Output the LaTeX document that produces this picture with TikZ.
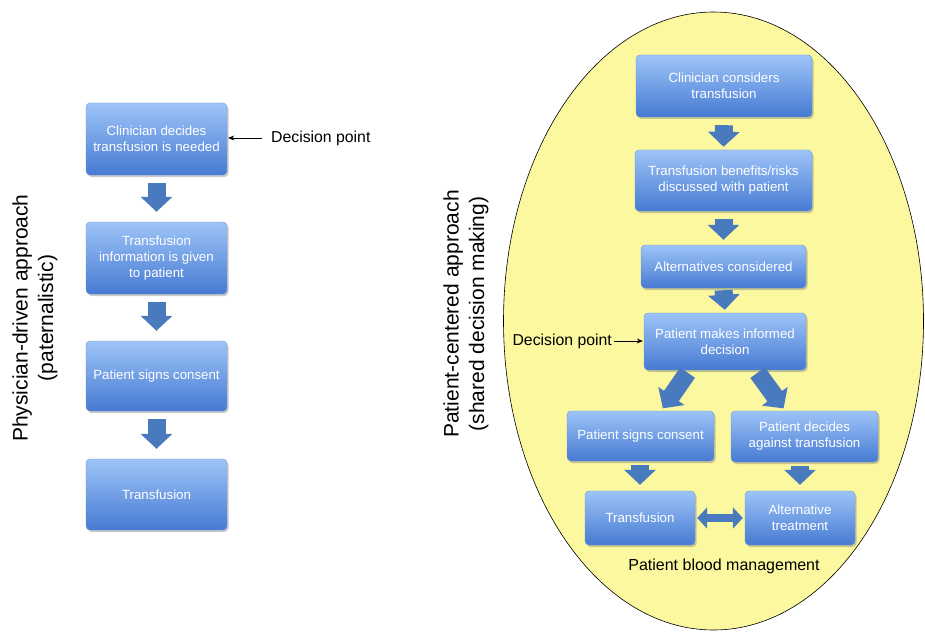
\documentclass[tikz,border=0pt]{standalone}
\usepackage{fontspec}
\setmainfont{Liberation Sans}
\usetikzlibrary{arrows.meta,shadows,calc}
\definecolor{boxtop}{RGB}{158,196,248}
\definecolor{boxbot}{RGB}{70,122,210}
\definecolor{boxline}{RGB}{110,150,215}
\definecolor{arrowblue}{RGB}{74,122,190}
\definecolor{ellyellow}{RGB}{252,248,160}
\tikzset{
  flowbox/.style={rectangle, rounded corners=4pt, top color=boxtop, bottom color=boxbot,
    draw=boxline, line width=0.4pt, text=white, align=center, inner sep=2pt,
    font=\fontsize{13.3}{16}\selectfont,
    drop shadow={shadow xshift=1.5pt, shadow yshift=-2pt, opacity=0.35, fill=black!60}},
  blockarrow/.style={draw=arrowblue, line width=18pt,
    -{Triangle[width=31pt,length=15pt]}, arrowblue},
  dblarrow/.style={draw=arrowblue, line width=8pt,
    {Triangle[width=21pt,length=10pt]}-{Triangle[width=21pt,length=10pt]}, arrowblue},
  label/.style={text=black, inner sep=0pt},
  sidetitle/.style={text=black, inner sep=0pt, rotate=90, align=center, font=\fontsize{21}{25.5}\selectfont},
  pointer/.style={-{Stealth[length=6pt,width=5pt]}, line width=0.7pt, black}
}
\begin{document}
\begin{tikzpicture}[x=1pt,y=-1pt]
\useasboundingbox (0,0) rectangle (925,631);
% ellipse
\draw[fill=ellyellow, line width=0.6pt] (713.5,321) ellipse [x radius=210pt, y radius=309pt];

% left side
\node[flowbox, minimum width=141pt, minimum height=72pt] (b1) at (156.5,139) {Clinician decides\\transfusion is needed};
\node[flowbox, minimum width=141pt, minimum height=72pt] (b2) at (156.5,258) {Transfusion\\information is given\\to patient};
\node[flowbox, minimum width=141pt, minimum height=70pt] (b3) at (156.5,376) {Patient signs consent};
\node[flowbox, minimum width=141pt, minimum height=71pt] (b4) at (156.5,494.5) {Transfusion};

\draw[blockarrow, shorten <=8pt, shorten >=10pt] (b1.south) -- (b2.north);
\draw[blockarrow, shorten <=8pt, shorten >=10pt] (b2.south) -- (b3.north);
\draw[blockarrow, shorten <=8pt, shorten >=10pt] (b3.south) -- (b4.north);

\node[label, anchor=west, font=\fontsize{15.8}{19}\selectfont] (dp1) at (271,138) {Decision point};
\draw[pointer, shorten <=9pt, shorten >=1pt] (dp1.west) -- (dp1.west -| b1.east);

\node[sidetitle] (lt) at (35,318) {Physician-driven approach\\(paternalistic)};

% right side
\node[flowbox, minimum width=176pt, minimum height=62pt] (c1) at (724,86) {Clinician considers\\transfusion};
\node[flowbox, minimum width=177pt, minimum height=61pt] (c2) at (723.5,180.5) {Transfusion benefits/risks\\discussed with patient};
\node[flowbox, minimum width=165pt, minimum height=43pt] (c3) at (723.5,266.5) {Alternatives considered};
\node[flowbox, minimum width=162pt, minimum height=57pt] (c4) at (725,341.5) {Patient makes informed\\decision};
\node[flowbox, minimum width=147pt, minimum height=50pt] (c5) at (640.5,436) {Patient signs consent};
\node[flowbox, minimum width=147pt, minimum height=51pt] (c6) at (804.5,436.5) {Patient decides\\against transfusion};
\node[flowbox, minimum width=110pt, minimum height=54pt] (c7) at (640,518) {Transfusion};
\node[flowbox, minimum width=110pt, minimum height=54pt] (c8) at (800,518) {Alternative\\treatment};

\draw[blockarrow, shorten <=8pt, shorten >=3pt] (c1.south) -- (c2.north);
\draw[blockarrow, shorten <=8pt, shorten >=5pt] (c2.south) -- (c3.north);
\draw[blockarrow, shorten <=2pt, shorten >=3pt] (c3.south) -- (c4.north);
\draw[blockarrow, shorten <=3pt, shorten >=3pt] ($(c4.south west)!0.28!(c4.south east)$) -- ($(c5.north west)!0.64!(c5.north east)$);
\draw[blockarrow, shorten <=3pt, shorten >=3pt] ($(c4.south west)!0.69!(c4.south east)$) -- ($(c6.north west)!0.37!(c6.north east)$);
\draw[blockarrow, shorten <=4pt, shorten >=6pt] (c5.south -| c7.north) -- (c7.north);
\draw[blockarrow, shorten <=4pt, shorten >=6pt] (c6.south -| c8.north) -- (c8.north);
\draw[dblarrow, shorten <=2pt, shorten >=2pt] (c7.east) -- (c8.west);

\node[label, anchor=east, font=\fontsize{15.8}{19}\selectfont] (dp2) at (612,341) {Decision point};
\draw[pointer, shorten <=2pt, shorten >=1pt] (dp2.east) -- (dp2.east -| c4.west);

\node[label, font=\fontsize{16}{19}\selectfont] (pbm) at (724,566) {Patient blood management};

\node[sidetitle] (rt) at (466,314) {Patient-centered approach\\(shared decision making)};
\end{tikzpicture}
\end{document}
